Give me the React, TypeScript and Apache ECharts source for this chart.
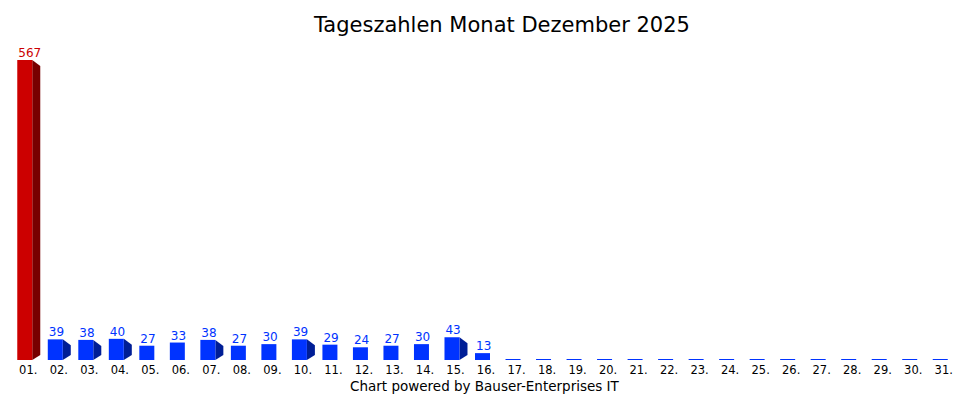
import React, { useEffect, useRef } from "react";
import * as echarts from "echarts";

const days = [
  "01.", "02.", "03.", "04.", "05.", "06.", "07.", "08.", "09.", "10.",
  "11.", "12.", "13.", "14.", "15.", "16.", "17.", "18.", "19.", "20.",
  "21.", "22.", "23.", "24.", "25.", "26.", "27.", "28.", "29.", "30.", "31.",
];
const counts = [
  567, 39, 38, 40, 27, 33, 38, 27, 30, 39,
  29, 24, 27, 30, 43, 13, 0, 0, 0, 0,
  0, 0, 0, 0, 0, 0, 0, 0, 0, 0, 0,
];
const maxIndex = counts.indexOf(Math.max(...counts));

const FONT = "'DejaVu Sans', Verdana, sans-serif";
const BLUE = "#0033ff";
const BLUE_SIDE = "#001e96";
const RED = "#cc0000";
const RED_SIDE = "#770000";

const App: React.FC = () => {
  const chartRef = useRef<HTMLDivElement>(null);

  useEffect(() => {
    if (!chartRef.current) return;
    const chart = echarts.init(chartRef.current, null, { renderer: "svg" });

    chart.setOption({
      animation: false,
      backgroundColor: "#fff",
      title: {
        text: "Tageszahlen Monat Dezember 2025",
        left: 309,
        top: 9,
        textStyle: { fontFamily: FONT, fontSize: 21, fontWeight: "normal", color: "#000" },
      },
      graphic: [
        {
          type: "text",
          left: 350,
          top: 379,
          style: {
            text: "Chart powered by Bauser-Enterprises IT",
            font: `13.5px ${FONT}`,
            lineHeight: 14,
            fill: "#000",
          },
        },
      ],
      grid: { left: 13, right: 11, top: 60, bottom: 40 },
      xAxis: {
        type: "category",
        data: days,
        axisLine: { show: false },
        axisTick: { show: false },
        axisLabel: { fontFamily: FONT, fontSize: 11.5, lineHeight: 12, color: "#000", margin: 4 },
      },
      yAxis: {
        type: "value",
        min: 0,
        max: 567,
        show: false,
        splitLine: { show: false },
      },
      series: [
        {
          type: "custom",
          data: counts.map((v, i) => [i, v]),
          renderItem: (params: any, api: any) => {
            const idx = api.value(0);
            const v = api.value(1);
            const top = api.coord([idx, v]);
            const base = api.coord([idx, 0]);
            const x0 = top[0] - 11;
            const w = 15;
            const isMax = params.dataIndex === maxIndex;
            const front = isMax ? RED : BLUE;
            const side = isMax ? RED_SIDE : BLUE_SIDE;
            const h = base[1] - top[1];
            const children: any[] = [];
            if (v === 0) {
              children.push({
                type: "rect",
                shape: { x: x0, y: base[1] - 1, width: w, height: 1 },
                style: { fill: BLUE },
              });
              return { type: "group", children };
            }
            if (h >= 20) {
              const r = x0 + w;
              children.push({
                type: "polygon",
                shape: {
                  points: [
                    [r, top[1]],
                    [r + 8, top[1] + 6],
                    [r + 8, base[1] - 5],
                    [r, base[1]],
                  ],
                },
                style: { fill: side },
              });
            }
            children.push({
              type: "rect",
              shape: { x: x0, y: top[1], width: w, height: h },
              style: { fill: front },
            });
            children.push({
              type: "text",
              x: x0 + 1,
              y: top[1] - 1,
              style: {
                text: String(v),
                font: `12px ${FONT}`,
                fill: isMax ? RED : BLUE,
                align: "left",
                verticalAlign: "bottom",
              },
            });
            return { type: "group", children };
          },
        },
      ],
    });

    return () => {
      chart.dispose();
    };
  }, []);

  return (
    <div
      ref={chartRef}
      style={{ position: "absolute", left: 0, top: 0, width: "970px", height: "400px" }}
    />
  );
};

export default App;
